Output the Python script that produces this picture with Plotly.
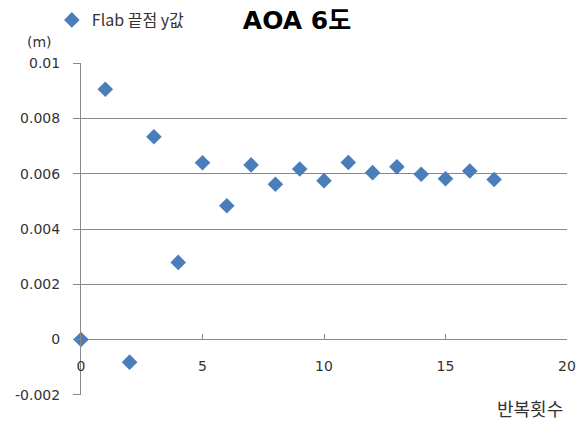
import plotly.graph_objects as go

# Iteration count vs. flap-tip y-value (m)
iterations = list(range(0, 18))
tip_y = [0.0, 0.00906, -0.00082, 0.00734, 0.00279, 0.00640, 0.00484, 0.00632,
         0.00562, 0.00617, 0.00575, 0.00641, 0.00604, 0.00625, 0.00598, 0.00582,
         0.00610, 0.00579]

series_name = "Flab 끝점 y값"
title_text = "AOA 6도"
x_title = "반복횟수"
y_unit = "(m)"

y_ticks = [-0.002, 0, 0.002, 0.004, 0.006, 0.008, 0.01]
y_ticktext = ["-0.002", "0", "0.002", "0.004", "0.006", "0.008", "0.01"]
x_ticks = [0, 5, 10, 15, 20]

FONT = "DejaVu Sans, Noto Sans CJK KR, sans-serif"
KFONT = "Noto Sans CJK KR, sans-serif"
TXT = "#333333"
GRID = "#888888"

fig = go.Figure()
fig.add_trace(go.Scatter(
    x=iterations, y=tip_y, mode="markers", name=series_name,
    marker=dict(symbol="diamond", size=12, color="#4A7EBB"),
    cliponaxis=False,
))

fig.update_layout(
    width=582, height=422,
    margin=dict(l=81, r=15, t=63, b=27, autoexpand=False),
    paper_bgcolor="white", plot_bgcolor="white",
    font=dict(family=FONT, size=14, color=TXT),
    showlegend=True,
    legend=dict(x=-0.06, y=1 + 43 / 332, xanchor="left", yanchor="middle",
                font=dict(family=KFONT, size=16, color=TXT), itemwidth=30,
                bgcolor="rgba(0,0,0,0)"),
    title=dict(text="<b>" + title_text + "</b>", x=297 / 582, xref="container",
               xanchor="center", y=1 - 20 / 422, yref="container", yanchor="middle",
               font=dict(family="DejaVu Sans, Noto Sans CJK KR, sans-serif",
                         size=25, color="black")),
    xaxis=dict(range=[0, 20], tickvals=x_ticks, showgrid=False, zeroline=False,
               anchor="free", position=2 / 12, showline=False,
               ticks="inside", ticklen=6, tickcolor=GRID,
               ticklabelstandoff=16, automargin=False,
               tickfont=dict(size=14, color=TXT)),
    yaxis=dict(range=[-0.00201, 0.01001], tickvals=y_ticks, ticktext=y_ticktext,
               showgrid=True, gridcolor=GRID, gridwidth=1,
               zeroline=True, zerolinecolor=GRID, zerolinewidth=1,
               showline=True, linecolor=GRID, linewidth=1,
               ticks="outside", ticklen=7, tickcolor=GRID,
               ticklabelstandoff=10, automargin=False,
               tickfont=dict(size=14, color=TXT)),
    annotations=[
        dict(text=y_unit, xref="paper", yref="paper", x=(39 - 81) / 486, y=1 + 21 / 332,
             xanchor="center", yanchor="middle", showarrow=False,
             font=dict(size=14, color=TXT)),
        dict(text=x_title, xref="paper", yref="paper", x=(565 - 81) / 486, y=-13 / 332,
             xanchor="right", yanchor="middle", showarrow=False,
             font=dict(family=KFONT, size=18, color=TXT)),
    ],
)

fig.write_html("out.html")
